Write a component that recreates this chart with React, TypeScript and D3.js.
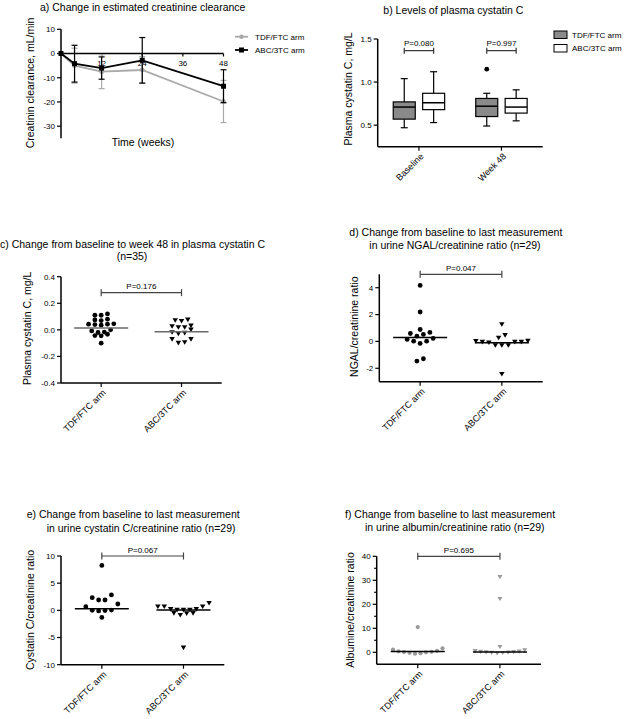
import React from "react";
import * as d3 from "d3";

const FONT = "'Liberation Sans', Arial, Helvetica, sans-serif";
const W = 630;
const H = 719;

// ---------- shared ----------
const arms = ["TDF/FTC arm", "ABC/3TC arm"];

// ---------- panel a ----------
const weeks = [0, 4, 12, 24, 48];
const tdfClearanceMean = [0, -5, -7.5, -6.8, -19.8];
const tdfClearanceSd = [0, 7.2, 7, 5.5, 8.7];
const abcClearanceMean = [0, -4.2, -6, -2.8, -13.5];
const abcClearanceSd = [0, 7.6, 4.6, 9.4, 6.8];
const weekTicks = [12, 24, 36, 48];
const clearanceTicks = [10, 0, -10, -20, -30];

// ---------- panel b ----------
const visits = ["Baseline", "Week 48"];
// [min, q1, median, q3, max]
const tdfBoxes = [
  [0.47, 0.57, 0.71, 0.77, 1.04],
  [0.49, 0.6, 0.72, 0.81, 0.87],
];
const abcBoxes = [
  [0.53, 0.68, 0.76, 0.87, 1.12],
  [0.55, 0.64, 0.71, 0.81, 0.91],
];
const tdfOutliers = [[], [1.15]];
const visitPValues = ["P=0.080", "P=0.997"];
const cystatinTicks = [0.5, 1.0, 1.5];

// ---------- panel c ----------
const tdfCysChange = [0.12, 0.11, 0.11, 0.08, 0.075, 0.07, 0.045, 0.043, 0.043, 0.04, 0.035, 0, -0.008, -0.017, -0.02, -0.033, -0.043, -0.045, -0.1];
const abcCysChange = [0.075, 0.07, 0.065, 0.03, 0.025, 0.018, 0.018, 0, -0.02, -0.025, -0.03, -0.072, -0.072, -0.095, -0.1];
const cysChangeMedians = [0.013, -0.015];
const cysChangeTicks = [-0.4, -0.2, 0, 0.2, 0.4];

// ---------- panel d ----------
const tdfNgal = [4.17, 2.19, 0.89, 0.67, 0.59, 0.52, 0.39, 0.22, 0.15, 0.02, 0.02, -0.15, -1.29, -1.46];
const abcNgal = [1.26, 0.45, 0.26, 0.02, 0, -0.05, -0.05, -0.05, -0.1, -0.3, -0.3, -0.3, -2.44];
const ngalMedians = [0.3, -0.1];
const ngalTicks = [-2, 0, 2, 4];

// ---------- panel e ----------
const tdfUrineCys = [8.26, 2.83, 2.33, 1.9, 1.9, 1.17, 0.67, 0.05, 0, -0.05, -0.1, -1.3];
const abcUrineCys = [1.3, 0.67, 0.67, 0.67, 0.18, 0.18, 0.05, 0.05, 0.05, -0.55, -0.55, -0.6, -0.9, -6.9];
const urineCysMedians = [0.3, 0.05];
const urineCysTicks = [-10, -5, 0, 5, 10];

// ---------- panel f ----------
const tdfAlbumin = [10.5, 1.66, 1.1, 0.6, 0.4, 0.2, 0.1, 0, -0.2, -0.4, -0.6];
const abcAlbumin = [31.3, 22.2, 2.2, 0.8, 0.5, 0.3, 0.2, 0.1, 0, -0.1, -0.2, -0.3, -0.5];
const albuminMedians = [0.3, 0.15];
const albuminTicks = [0, 10, 20, 30, 40];
const albuminMinorTicks = [5, 15, 25, 35];

// ---------- helpers ----------
function rowLayout(values: number[], bin: number, shift: number, spacing: number) {
  const items = values.map((v, i) => ({ v, i }));
  const groups = d3.group(items, (d) => Math.floor((d.v - shift) / bin + 1e-9));
  const out: { v: number; dx: number }[] = [];
  for (const [, g] of groups) {
    const sorted = g.slice().sort((a, b) => a.v - b.v);
    const n = sorted.length;
    sorted.forEach((d, k) => {
      let off: number;
      if (n % 2 === 1) {
        const m = Math.ceil(k / 2);
        off = k === 0 ? 0 : k % 2 === 1 ? -m : m;
      } else {
        const m = Math.floor(k / 2) + 0.5;
        off = k % 2 === 0 ? -m : m;
      }
      out.push({ v: d.v, dx: off * spacing });
    });
  }
  return out;
}

function fmt(v: number, dec: number) {
  return v.toFixed(dec);
}

const AX = { stroke: "#000", strokeWidth: 1.5 };
const TK = { stroke: "#000", strokeWidth: 1.2 };

function triPath(w: number, h: number) {
  const p = d3.path();
  p.moveTo(-w / 2, -h / 2);
  p.lineTo(w / 2, -h / 2);
  p.lineTo(0, h / 2);
  p.closePath();
  return p.toString();
}

// ---------- panel a ----------
function PanelA() {
  const x = d3.scaleLinear().domain([0, 48]).range([61, 223.5]);
  const y = d3.scaleLinear().domain([-35, 10]).range([138.3, 29.3]);
  const series = [
    { mean: tdfClearanceMean, sd: tdfClearanceSd, color: "#a9a9a9", marker: "circle" },
    { mean: abcClearanceMean, sd: abcClearanceSd, color: "#000", marker: "square" },
  ];
  const line = d3
    .line<number>()
    .x((_, i) => x(weeks[i]))
    .y((d) => y(d));
  return (
    <g>
      <text x={40} y={10.5} fontSize={10.5}>a) Change in estimated creatinine clearance</text>
      <line x1={x(0)} x2={x(0)} y1={y(10)} y2={y(-35)} {...AX} />
      {clearanceTicks.map((t) => (
        <g key={t}>
          <line x1={x(0) - 4} x2={x(0)} y1={y(t)} y2={y(t)} {...TK} />
          <text x={x(0) - 6} y={y(t)} dy="0.35em" textAnchor="end" fontSize={8}>{t}</text>
        </g>
      ))}
      <line x1={x(0)} x2={x(48)} y1={y(0)} y2={y(0)} {...AX} />
      {weekTicks.map((t) => (
        <g key={t}>
          <line x1={x(t)} x2={x(t)} y1={y(0)} y2={y(0) + 3} {...TK} />
          <text x={x(t)} y={y(0) + 12} textAnchor="middle" fontSize={8}>{t}</text>
        </g>
      ))}
      {series.map((s, si) => (
        <g key={si}>
          <path d={line(s.mean) || ""} fill="none" stroke={s.color} strokeWidth={1.8} />
          {s.mean.map((m, i) =>
            s.sd[i] > 0 ? (
              <g key={i} stroke={s.color} strokeWidth={1.2}>
                <line x1={x(weeks[i])} x2={x(weeks[i])} y1={y(m - s.sd[i])} y2={y(m + s.sd[i])} />
                <line x1={x(weeks[i]) - 3} x2={x(weeks[i]) + 3} y1={y(m - s.sd[i])} y2={y(m - s.sd[i])} />
                <line x1={x(weeks[i]) - 3} x2={x(weeks[i]) + 3} y1={y(m + s.sd[i])} y2={y(m + s.sd[i])} />
              </g>
            ) : null
          )}
          {s.mean.map((m, i) =>
            s.marker === "circle" ? (
              <circle key={"m" + i} cx={x(weeks[i])} cy={y(m)} r={2.4} fill={s.color} />
            ) : (
              <rect key={"m" + i} x={x(weeks[i]) - 2.5} y={y(m) - 2.5} width={5} height={5} fill={s.color} />
            )
          )}
        </g>
      ))}
      {/* legend */}
      {series.map((s, si) => (
        <g key={"lg" + si} transform={`translate(235,${36.7 + si * 13.3})`}>
          <line x1={0} x2={13} y1={0} y2={0} stroke={s.color} strokeWidth={1.8} />
          {s.marker === "circle" ? (
            <circle cx={6.5} cy={0} r={2.2} fill={s.color} />
          ) : (
            <rect x={4} y={-2.5} width={5} height={5} fill={s.color} />
          )}
          <text x={20} y={0} dy="0.35em" fontSize={8}>{arms[si]}</text>
        </g>
      ))}
      <text x={143} y={146} textAnchor="middle" fontSize={10.5}>Time (weeks)</text>
      <text transform="translate(34,83) rotate(-90)" textAnchor="middle" fontSize={10.5}>
        Creatinin clearance, mL/min
      </text>
    </g>
  );
}

// ---------- panel b ----------
function PanelB() {
  const x = d3.scaleBand<string>().domain(visits).range([377.7, 542.7]);
  const y = d3.scaleLinear().domain([0.25, 1.5]).range([146.7, 39]);
  const cx = (v: string) => (x(v) || 0) + x.bandwidth() / 2;
  const off = 14.7;
  const bw = 11;
  const axisY = y(0.25);
  const drawBox = (b: number[], c: number, fill: string, key: string) => (
    <g key={key}>
      <line x1={c} x2={c} y1={y(b[0])} y2={y(b[1])} stroke="#000" strokeWidth={1.2} />
      <line x1={c} x2={c} y1={y(b[3])} y2={y(b[4])} stroke="#000" strokeWidth={1.2} />
      <line x1={c - 3.5} x2={c + 3.5} y1={y(b[0])} y2={y(b[0])} stroke="#000" strokeWidth={1.2} />
      <line x1={c - 3.5} x2={c + 3.5} y1={y(b[4])} y2={y(b[4])} stroke="#000" strokeWidth={1.2} />
      <rect x={c - bw} y={y(b[3])} width={bw * 2} height={y(b[1]) - y(b[3])} fill={fill} stroke="#000" strokeWidth={1.2} />
      <line x1={c - bw} x2={c + bw} y1={y(b[2])} y2={y(b[2])} stroke="#000" strokeWidth={1.5} />
    </g>
  );
  return (
    <g>
      <text x={383.3} y={14} fontSize={10.5}>b) Levels of plasma cystatin C</text>
      <line x1={377.7} x2={377.7} y1={y(1.5)} y2={axisY} {...AX} />
      {cystatinTicks.map((t) => (
        <g key={t}>
          <line x1={373.7} x2={377.7} y1={y(t)} y2={y(t)} {...TK} />
          <text x={371.7} y={y(t)} dy="0.35em" textAnchor="end" fontSize={8}>{fmt(t, 1)}</text>
        </g>
      ))}
      <line x1={377.7} x2={542.7} y1={axisY} y2={axisY} {...AX} />
      {visits.map((v, i) => (
        <g key={v}>
          <line x1={cx(v)} x2={cx(v)} y1={axisY} y2={axisY + 4} {...TK} />
          <text transform={`translate(${cx(v) + 3},${axisY + 8}) rotate(-45)`} dy="0.35em" textAnchor="end" fontSize={9}>
            {v}
          </text>
          {drawBox(tdfBoxes[i], cx(v) - off, "#8a8a8a", "t" + i)}
          {drawBox(abcBoxes[i], cx(v) + off, "#fff", "a" + i)}
          {tdfOutliers[i].map((o, k) => (
            <circle key={k} cx={cx(v) - off} cy={y(o)} r={2.4} fill="#000" />
          ))}
          <g stroke="#333" strokeWidth={1.2}>
            <line x1={cx(v) - off} x2={cx(v) + off} y1={y(1.365)} y2={y(1.365)} />
            <line x1={cx(v) - off} x2={cx(v) - off} y1={y(1.365) - 3} y2={y(1.365) + 3} />
            <line x1={cx(v) + off} x2={cx(v) + off} y1={y(1.365) - 3} y2={y(1.365) + 3} />
          </g>
          <text x={cx(v)} y={y(1.365) - 4.5} textAnchor="middle" fontSize={8}>{visitPValues[i]}</text>
        </g>
      ))}
      {/* legend */}
      {["#8a8a8a", "#fff"].map((f, i) => (
        <g key={f} transform={`translate(554,${31 + i * 13.5})`}>
          <rect x={0} y={0} width={13} height={7.5} fill={f} stroke="#000" strokeWidth={1} />
          <text x={18} y={3.75} dy="0.35em" fontSize={8}>{arms[i]}</text>
        </g>
      ))}
      <text transform="translate(352,89) rotate(-90)" textAnchor="middle" fontSize={10.5}>
        Plasma cystatin C, mg/L
      </text>
    </g>
  );
}

// ---------- scatter panels ----------
type ScatterCfg = {
  xRange: [number, number];
  yRange: [number, number];
  domain: [number, number];
  ticks: number[];
  minorTicks?: number[];
  dec: number;
  tdf: number[];
  abc: number[];
  medians: number[];
  bracket: number;
  p: string;
  yLabel: string;
  yLabelPos: [number, number];
  color: string;
  medianColor: string;
  bin: number;
  shift: number;
  spacing: number;
  r: number;
  tri: [number, number];
};

function ScatterPanel({ c }: { c: ScatterCfg }) {
  const x = d3.scaleBand<string>().domain(arms).range(c.xRange);
  const y = d3.scaleLinear().domain(c.domain).range(c.yRange);
  const cx = (a: string) => (x(a) || 0) + x.bandwidth() / 2;
  const axisY = y(c.domain[0]);
  const x0 = c.xRange[0];
  const tdfPts = rowLayout(c.tdf, c.bin, c.shift, c.spacing);
  const abcPts = rowLayout(c.abc, c.bin, c.shift, c.spacing);
  const tri = triPath(c.tri[0], c.tri[1]);
  const by = y(c.bracket);
  return (
    <g>
      <line x1={x0} x2={x0} y1={y(c.domain[1])} y2={axisY} {...AX} />
      {c.ticks.map((t) => (
        <g key={t}>
          <line x1={x0 - 4} x2={x0} y1={y(t)} y2={y(t)} {...TK} />
          <text x={x0 - 6} y={y(t)} dy="0.35em" textAnchor="end" fontSize={8}>{fmt(t, c.dec)}</text>
        </g>
      ))}
      {(c.minorTicks || []).map((t) => (
        <line key={"mn" + t} x1={x0 - 2.5} x2={x0} y1={y(t)} y2={y(t)} {...TK} />
      ))}
      <line x1={x0} x2={c.xRange[1]} y1={axisY} y2={axisY} {...AX} />
      {arms.map((a) => (
        <g key={a}>
          <line x1={cx(a)} x2={cx(a)} y1={axisY} y2={axisY + 4} {...TK} />
          <text transform={`translate(${cx(a) + 3},${axisY + 8}) rotate(-45)`} dy="0.35em" textAnchor="end" fontSize={9}>
            {a}
          </text>
        </g>
      ))}
      {tdfPts.map((p, i) => (
        <circle key={"t" + i} cx={cx(arms[0]) + p.dx} cy={y(p.v)} r={c.r} fill={c.color} />
      ))}
      {abcPts.map((p, i) => (
        <path key={"a" + i} d={tri} transform={`translate(${cx(arms[1]) + p.dx},${y(p.v)})`} fill={c.color} />
      ))}
      {arms.map((a, i) => (
        <line key={"md" + a} x1={cx(a) - 27} x2={cx(a) + 27} y1={y(c.medians[i])} y2={y(c.medians[i])} stroke={c.medianColor} strokeWidth={1.5} />
      ))}
      <g stroke="#444" strokeWidth={1.2}>
        <line x1={cx(arms[0])} x2={cx(arms[1])} y1={by} y2={by} />
        <line x1={cx(arms[0])} x2={cx(arms[0])} y1={by - 3.5} y2={by + 3.5} />
        <line x1={cx(arms[1])} x2={cx(arms[1])} y1={by - 3.5} y2={by + 3.5} />
      </g>
      <text x={(cx(arms[0]) + cx(arms[1])) / 2} y={by - 3.5} textAnchor="middle" fontSize={8}>{c.p}</text>
      <text transform={`translate(${c.yLabelPos[0]},${c.yLabelPos[1]}) rotate(-90)`} textAnchor="middle" fontSize={10.5}>
        {c.yLabel}
      </text>
    </g>
  );
}

const panelC: ScatterCfg = {
  xRange: [61, 221.7], yRange: [383, 276.7], domain: [-0.4, 0.4], ticks: cysChangeTicks, dec: 1,
  tdf: tdfCysChange, abc: abcCysChange, medians: cysChangeMedians, bracket: 0.28, p: "P=0.176",
  yLabel: "Plasma cystatin C, mg/L", yLabelPos: [30.5, 328.3], color: "#000", medianColor: "#6a6a6a",
  bin: 0.04, shift: -0.031, spacing: 6.3, r: 2.4, tri: [5.5, 4.6],
};
const panelD: ScatterCfg = {
  xRange: [379.3, 542.7], yRange: [381.7, 274.3], domain: [-3, 5], ticks: ngalTicks, dec: 0,
  tdf: tdfNgal, abc: abcNgal, medians: ngalMedians, bracket: 5, p: "P=0.047",
  yLabel: "NGAL/creatinine ratio", yLabelPos: [358, 326.7], color: "#000", medianColor: "#000",
  bin: 0.6, shift: 0.24, spacing: 6.5, r: 2.4, tri: [5.5, 4.6],
};
const panelE: ScatterCfg = {
  xRange: [61, 224.3], yRange: [664.7, 556], domain: [-10, 10], ticks: urineCysTicks, dec: 0,
  tdf: tdfUrineCys, abc: abcUrineCys, medians: urineCysMedians, bracket: 10, p: "P=0.067",
  yLabel: "Cystatin C/creatinine ratio", yLabelPos: [34, 610], color: "#000", medianColor: "#000",
  bin: 2, shift: -0.5, spacing: 6.4, r: 2.4, tri: [5.5, 4.6],
};
const panelF: ScatterCfg = {
  xRange: [376.7, 541], yRange: [664.3, 556.3], domain: [-5, 40], ticks: albuminTicks, minorTicks: albuminMinorTicks, dec: 0,
  tdf: tdfAlbumin, abc: abcAlbumin, medians: albuminMedians, bracket: 40, p: "P=0.695",
  yLabel: "Albumine/creatinine ratio", yLabelPos: [354, 610], color: "#9a9a9a", medianColor: "#000",
  bin: 5, shift: 1.9, spacing: 5.5, r: 2.1, tri: [5, 4.2],
};

export default function App() {
  return (
    <svg
      width={W}
      height={H}
      viewBox={`0 0 ${W} ${H}`}
      style={{ position: "absolute", left: 0, top: 0, background: "#fff" }}
      fontFamily={FONT}
    >
      <rect x={0} y={0} width={W} height={H} fill="#fff" />
      <PanelA />
      <PanelB />
      <text x={132.5} y={248} textAnchor="middle" fontSize={10.5}>
        c) Change from baseline to week 48 in plasma cystatin C
      </text>
      <text x={132} y={259.5} textAnchor="middle" fontSize={10.5}>(n=35)</text>
      <ScatterPanel c={panelC} />
      <text x={349.3} y={236} fontSize={10.5}>d) Change from baseline to last measurement</text>
      <text x={369.3} y={249} fontSize={10.5}>in urine NGAL/creatinine ratio (n=29)</text>
      <ScatterPanel c={panelD} />
      <text x={26.7} y={518} fontSize={10.5}>e) Change from baseline to last measurement</text>
      <text x={46.7} y={531.5} fontSize={10.5}>in urine cystatin C/creatinine ratio (n=29)</text>
      <ScatterPanel c={panelE} />
      <text x={345} y={517.5} fontSize={10.5}>f) Change from baseline to last measurement</text>
      <text x={365} y={531} fontSize={10.5}>in urine albumin/creatinine ratio (n=29)</text>
      <ScatterPanel c={panelF} />
    </svg>
  );
}
